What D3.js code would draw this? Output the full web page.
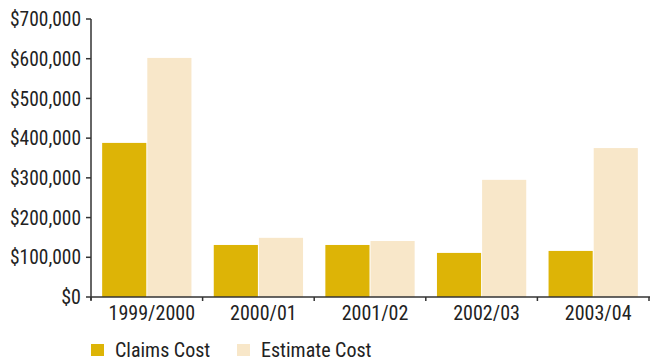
<!DOCTYPE html>
<html><head><meta charset="utf-8">
<script src="https://cdn.jsdelivr.net/npm/d3@7"></script>
<style>
body{margin:0;background:#fff;}
text{font-family:"Liberation Sans Narrow","Roboto Condensed","Roboto",sans-serif;fill:#222;}
</style></head>
<body><svg id="c" width="655" height="361"></svg>
<script>
const categories = ["1999/2000","2000/01","2001/02","2002/03","2003/04"];
const claimsCost = [388000,131000,131000,111000,116000];
const estimateCost = [602000,149000,141000,295000,375000];
const seriesNames = ["Claims Cost","Estimate Cost"];
const yTicks = [0,100000,200000,300000,400000,500000,600000,700000];
const colors = ["#DDB406","#F8E7C9"];

(function(){
const svg = d3.select("#c");
const mL = 91, mR = 649, mT = 19, mB = 297;
const x = d3.scaleBand().domain(categories).range([mL,mR]).paddingInner(0.2).paddingOuter(0.1);
const step = x.step();
const y = d3.scaleLinear().domain([0,700000]).range([mB,mT]);
const xs = d3.scaleBand().domain(seriesNames).range([0,x.bandwidth()]);
const fmt = v => "$" + d3.format(",")(v);

const data = categories.map((c,i)=>({c, vals:[claimsCost[i],estimateCost[i]]}));
const g = svg.append("g");
data.forEach(d=>{
  d.vals.forEach((v,j)=>{
    g.append("rect")
      .attr("x", x(d.c)+xs(seriesNames[j]) + (j===0?0:0.5))
      .attr("y", y(v))
      .attr("width", xs.bandwidth() - 0.5)
      .attr("height", y(0)-y(v))
      .attr("fill", colors[j]);
  });
});

// y axis
svg.append("line").attr("x1",mL).attr("x2",mL).attr("y1",mT).attr("y2",mB+3)
  .attr("stroke","#333").attr("stroke-width",1.5);
yTicks.forEach(t=>{
  svg.append("line").attr("x1",mL-5).attr("x2",mL).attr("y1",y(t)).attr("y2",y(t))
    .attr("stroke","#333").attr("stroke-width",1.5);
  svg.append("text").attr("x",81).attr("y",y(t)).attr("dy","0.36em")
    .attr("text-anchor","end").attr("font-size",20)
    .attr("textLength",t===0?null:71).attr("lengthAdjust","spacingAndGlyphs").text(fmt(t));
});
// x axis
svg.append("line").attr("x1",mL).attr("x2",mR+1).attr("y1",mB).attr("y2",mB)
  .attr("stroke","#333").attr("stroke-width",1.5);
const bounds = [mL].concat(categories.map(c=>x(c)+x.bandwidth()+step*x.paddingInner()/2));
bounds.forEach((b,i)=>{
  const bx = i===bounds.length-1 ? mR : b;
  svg.append("line").attr("x1",bx).attr("x2",bx).attr("y1",mB).attr("y2",mB+4)
    .attr("stroke","#333").attr("stroke-width",1.5);
});
categories.forEach(c=>{
  svg.append("text").attr("x",x(c)+x.bandwidth()/2+5).attr("y",319.5)
    .attr("text-anchor","middle").attr("font-size",20).text(c);
});

// legend
const legX = [91,237];
seriesNames.forEach((s,i)=>{
  svg.append("rect").attr("x",legX[i]).attr("y",344).attr("width",13).attr("height",12).attr("fill",colors[i]);
  svg.append("text").attr("x",legX[i]+24).attr("y",356.5).attr("font-size",20).text(s);
});
})();
</script></body></html>
